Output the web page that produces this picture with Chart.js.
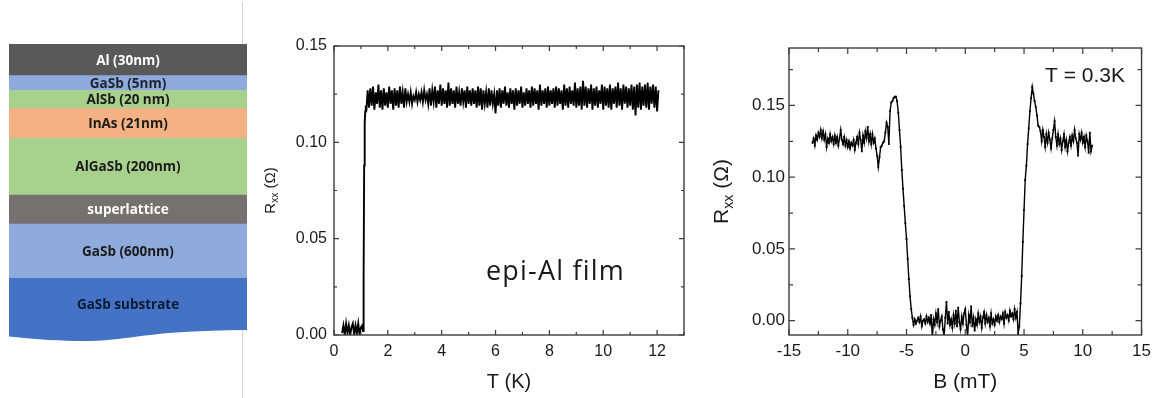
<!DOCTYPE html>
<html>
<head>
<meta charset="utf-8">
<script src="https://cdn.jsdelivr.net/npm/chart.js@4.4.1/dist/chart.umd.min.js"></script>
<style>
  html, body { margin: 0; padding: 0; background: #fff; }
  #wrap { position: relative; width: 1157px; height: 398px; overflow: hidden; }
  canvas { position: absolute; top: 0; }
  #divider { position: absolute; left: 242px; top: 2px; width: 1px; height: 396px; background: #d4d4d4; }
</style>
</head>
<body>
<div id="wrap">
  <div id="divider"></div>
  <canvas id="stack" width="260" height="398" style="left:0"></canvas>
  <canvas id="rt" width="440" height="398" style="left:260px"></canvas>
  <canvas id="rb" width="457" height="398" style="left:700px"></canvas>
</div>
<script>
// ---- layer stack (top to bottom), heights are drawn heights, not to scale
const layerNames = ['Al (30nm)', 'GaSb (5nm)', 'AlSb (20 nm)', 'InAs (21nm)', 'AlGaSb (200nm)', 'superlattice', 'GaSb (600nm)', 'GaSb substrate'];
const layerHeights = [31.7, 14.6, 18.4, 29.6, 56.7, 29, 54.3, 51.7];
const layerColors = ['#595959', '#8faadc', '#a9d18e', '#f4b183', '#a9d18e', '#767171', '#8faadc', '#4472c4'];
const layerTextColors = ['#ffffff', '#1c2230', '#1b1b1b', '#1b1b1b', '#1b1b1b', '#ffffff', '#1b1b1b', '#0e1a33'];

// ---- R_xx vs T
const tempK = [
  0.3,0.35,0.4,0.45,0.5,0.55,0.6,0.65,0.7,0.75,0.8,0.85,0.9,0.95,1,1.05,
  1.08,1.1,1.12,1.14,1.16,1.18,
  1.2,1.25,1.3,1.35,1.4,1.45,1.5,1.55,1.6,1.65,1.7,1.75,1.8,1.85,1.9,1.95,2,2.05,2.1,2.15,
  2.2,2.25,2.3,2.35,2.4,2.45,2.5,2.55,2.6,2.65,2.7,2.75,2.8,2.85,2.9,2.95,3,3.05,3.1,3.15,
  3.2,3.25,3.3,3.35,3.4,3.45,3.5,3.55,3.6,3.65,3.7,3.75,3.8,3.85,3.9,3.95,4,4.05,4.1,4.15,
  4.2,4.25,4.3,4.35,4.4,4.45,4.5,4.55,4.6,4.65,4.7,4.75,4.8,4.85,4.9,4.95,5,5.05,5.1,5.15,
  5.2,5.25,5.3,5.35,5.4,5.45,5.5,5.55,5.6,5.65,5.7,5.75,5.8,5.85,5.9,5.95,6,6.05,6.1,6.15,
  6.2,6.25,6.3,6.35,6.4,6.45,6.5,6.55,6.6,6.65,6.7,6.75,6.8,6.85,6.9,6.95,7,7.05,7.1,7.15,
  7.2,7.25,7.3,7.35,7.4,7.45,7.5,7.55,7.6,7.65,7.7,7.75,7.8,7.85,7.9,7.95,8,8.05,8.1,8.15,
  8.2,8.25,8.3,8.35,8.4,8.45,8.5,8.55,8.6,8.65,8.7,8.75,8.8,8.85,8.9,8.95,9,9.05,9.1,9.15,
  9.2,9.25,9.3,9.35,9.4,9.45,9.5,9.55,9.6,9.65,9.7,9.75,9.8,9.85,9.9,9.95,10,10.05,10.1,10.15,
  10.2,10.25,10.3,10.35,10.4,10.45,10.5,10.55,10.6,10.65,10.7,10.75,10.8,10.85,10.9,10.95,11,11.05,11.1,11.15,
  11.2,11.25,11.3,11.35,11.4,11.45,11.5,11.55,11.6,11.65,11.7,11.75,11.8,11.85,11.9,11.95,12,12.05
];
// resistance in milliohm
const rxxT_mOhm = [
  1,5,0,6,1,5,0,4,6,0,5,1,6,0,4,5,
  2,30,88,110,116,119,
  116,127,118,128,119,129,117,126,120,130,118,127,117,128,119,126,118,129,120,127,
  117,128,119,127,118,129,120,126,118,128,121,125,121,126,120,124,122,126,121,125,
  122,126,121,127,122,125,120,128,119,127,121,129,118,127,120,130,119,128,120,127,
  118,131,119,128,120,127,118,129,120,126,119,128,121,127,118,129,120,127,119,128,
  120,127,118,129,119,128,117,127,120,126,118,128,119,127,120,125,115,127,119,128,
  118,127,120,129,119,126,118,128,120,127,117,128,119,127,120,129,118,126,119,128,
  120,127,118,129,119,128,120,127,117,130,119,127,120,128,118,129,119,127,120,128,
  118,129,119,128,120,127,117,130,119,128,118,129,120,127,119,131,118,128,119,129,
  117,132,119,129,118,128,120,130,117,128,119,129,118,127,120,130,117,129,119,128,
  118,130,117,128,120,129,118,131,119,128,117,130,120,129,118,128,119,130,117,129,
  114,130,118,131,117,129,119,130,118,131,117,129,120,130,118,129,116,127
];
const tTicks = [0, 2, 4, 6, 8, 10, 12];
const tMinorTicks = [1, 3, 5, 7, 9, 11, 13];
const rTicksT = [0, 0.05, 0.10, 0.15];
const rMinorTicksT = [0.025, 0.075, 0.125];

// ---- R_xx vs B at 0.3 K
const fieldB = [
  -13,-12.9,-12.8,-12.7,-12.6,-12.5,-12.4,-12.3,-12.2,-12.1,
  -12,-11.9,-11.8,-11.7,-11.6,-11.5,-11.4,-11.3,-11.2,-11.1,
  -11,-10.9,-10.8,-10.7,-10.6,-10.5,-10.4,-10.3,-10.2,-10.1,
  -10,-9.9,-9.8,-9.7,-9.6,-9.5,-9.4,-9.3,-9.2,-9.1,
  -9,-8.9,-8.8,-8.7,-8.6,-8.5,-8.4,-8.3,-8.2,-8.1,
  -8,-7.9,-7.8,-7.7,-7.6,-7.5,-7.4,-7.3,-7.2,-7.1,
  -7,-6.9,-6.8,-6.7,-6.6,-6.5,-6.4,-6.3,-6.2,-6.1,
  -6,-5.9,-5.8,-5.7,-5.6,-5.5,-5.4,-5.3,-5.2,-5.1,
  -5,-4.9,-4.8,-4.7,-4.6,-4.5,-4.4,-4.3,-4.2,-4.1,
  -4,-3.9,-3.8,-3.7,-3.6,-3.5,-3.4,-3.3,-3.2,-3.1,
  -3,-2.9,-2.8,-2.7,-2.6,-2.5,-2.4,-2.3,-2.2,-2.1,
  -2,-1.9,-1.8,-1.7,-1.6,-1.5,-1.4,-1.3,-1.2,-1.1,
  -1,-0.9,-0.8,-0.7,-0.6,-0.5,-0.4,-0.3,-0.2,-0.1,
  0,0.1,0.2,0.3,0.4,0.5,0.6,0.7,0.8,0.9,
  1,1.1,1.2,1.3,1.4,1.5,1.6,1.7,1.8,1.9,
  2,2.1,2.2,2.3,2.4,2.5,2.6,2.7,2.8,2.9,
  3,3.1,3.2,3.3,3.4,3.5,3.6,3.7,3.8,3.9,
  4,4.1,4.2,4.3,4.4,4.5,4.6,4.7,4.8,4.9,
  5,5.1,5.2,5.3,5.4,5.5,5.6,5.7,5.8,5.9,
  6,6.1,6.2,6.3,6.4,6.5,6.6,6.7,6.8,6.9,
  7,7.1,7.2,7.3,7.4,7.5,7.6,7.7,7.8,7.9,
  8,8.1,8.2,8.3,8.4,8.5,8.6,8.7,8.8,8.9,
  9,9.1,9.2,9.3,9.4,9.5,9.6,9.7,9.8,9.9,
  10,10.1,10.2,10.3,10.4,10.5,10.6,10.7,10.8
];
const rxxB_mOhm = [
  124,127,122,129,126,131,128,133,127,132,
  126,130,121,127,124,130,125,128,123,129,
  124,128,122,127,133,126,123,128,122,126,
  121,125,120,124,122,126,119,124,128,123,
  131,126,118,129,124,132,127,135,125,130,
  123,130,124,127,120,115,107,114,121,122,
  124,125,131,138,135,123,146,152,153,155,
  156,156,153,145,133,121,105,92,80,68,
  57,43,29,17,8,2,-3,1,-2,0,
  2,-1,3,-4,0,1,-2,3,-1,2,
  -2,4,-12,1,-3,5,-1,8,-4,0,
  3,-6,-11,2,13,-2,6,-3,1,-5,
  4,-2,7,-4,9,-1,-6,3,-2,5,
  8,-3,-11,4,-1,10,-4,2,-7,1,
  -3,5,-1,3,-5,2,6,-2,4,-1,
  2,-4,5,-2,1,-3,3,0,4,-1,
  3,1,5,-2,6,2,4,0,7,3,
  5,1,8,2,6,-9,-4,12,31,55,
  77,98,108,123,134,146,155,163,158,153,
  149,143,136,135,132,125,133,128,121,130,
  124,131,126,120,127,133,139,128,122,130,
  123,127,119,125,130,121,126,118,124,128,
  122,129,125,133,127,124,115,130,126,131,
  124,128,121,129,125,117,131,118,122
];
const bTicks = [-15, -10, -5, 0, 5, 10, 15];
const bMinorTicks = [-12.5, -7.5, -2.5, 2.5, 7.5, 12.5];
const rTicksB = [0, 0.05, 0.10, 0.15];
const rMinorTicksB = [0.025, 0.075, 0.125, 0.175];

const SANS = '"Liberation Sans", Arial, sans-serif';

// 层结构标签 + 衬底波浪底边
const layerLabels = {
  id: 'layerLabels',
  afterDatasetsDraw(chart) {
    const ctx = chart.ctx;
    ctx.save();
    chart.data.datasets.forEach((ds, i) => {
      const el = chart.getDatasetMeta(i).data[0];
      const idx = layerNames.indexOf(ds.label);
      if (ds.label === 'GaSb substrate') {
        const w = el.width, l = el.x - w / 2, r = el.x + w / 2, b = el.base;
        ctx.fillStyle = ds.backgroundColor;
        ctx.beginPath();
        ctx.moveTo(l, b - 1);
        ctx.lineTo(l, b + 6.5);
        ctx.bezierCurveTo(l + 0.12 * w, b + 9.5, l + 0.22 * w, b + 11, l + 0.32 * w, b + 11);
        ctx.bezierCurveTo(l + 0.45 * w, b + 11, l + 0.55 * w, b + 5, l + 0.7 * w, b + 2.5);
        ctx.bezierCurveTo(l + 0.8 * w, b + 1, l + 0.9 * w, b + 0.3, r, b);
        ctx.lineTo(r, b - 1);
        ctx.closePath();
        ctx.fill();
      }
      ctx.fillStyle = layerTextColors[idx];
      ctx.font = 'bold 13.5px "Open Sans", sans-serif';
      ctx.textAlign = 'center';
      ctx.textBaseline = 'middle';
      ctx.fillText(ds.label, el.x, (el.y + el.base) / 2 + 1);
    });
    ctx.restore();
  }
};

// 边框 + 向内刻度 + 轴标题
function framePlugin(cfg) {
  return {
    id: 'frame',
    afterDraw(chart) {
      const { ctx, chartArea: a, scales: { x, y } } = chart;
      ctx.save();
      ctx.strokeStyle = '#3c3c3c';
      ctx.lineWidth = 1.4;
      ctx.strokeRect(a.left, a.top, a.right - a.left, a.bottom - a.top);
      ctx.lineWidth = 1.2;
      ctx.beginPath();
      const xt = (vals, len) => vals.forEach(v => {
        const p = x.getPixelForValue(v);
        ctx.moveTo(p, a.bottom); ctx.lineTo(p, a.bottom - len);
        ctx.moveTo(p, a.top); ctx.lineTo(p, a.top + len);
      });
      const yt = (vals, len) => vals.forEach(v => {
        const p = y.getPixelForValue(v);
        ctx.moveTo(a.left, p); ctx.lineTo(a.left + len, p);
        ctx.moveTo(a.right, p); ctx.lineTo(a.right - len, p);
      });
      xt(cfg.xMajor, cfg.major); xt(cfg.xMinor, cfg.minor);
      yt(cfg.yMajor, cfg.major); yt(cfg.yMinor, cfg.minor);
      ctx.stroke();

      // x title
      ctx.fillStyle = '#1a1a1a';
      ctx.font = cfg.titleSize + 'px ' + SANS;
      ctx.textAlign = 'center';
      ctx.textBaseline = 'alphabetic';
      ctx.fillText(cfg.xTitle, (a.left + a.right) / 2, cfg.xTitleY);

      // y title R_xx (Ω), rotated
      const s = cfg.yTitleSize;
      const mainF = s + 'px ' + SANS, subF = (s * 0.68) + 'px ' + SANS;
      ctx.save();
      ctx.translate(cfg.yTitleX, (a.top + a.bottom) / 2);
      ctx.rotate(-Math.PI / 2);
      ctx.textAlign = 'left';
      ctx.font = mainF; const w1 = ctx.measureText('R').width, w3 = ctx.measureText(' (\u03A9)').width;
      ctx.font = subF; const w2 = ctx.measureText('xx').width;
      let x0 = -(w1 + w2 + w3) / 2;
      ctx.font = mainF; ctx.fillText('R', x0, 0);
      ctx.font = subF; ctx.fillText('xx', x0 + w1, s * 0.22);
      ctx.font = mainF; ctx.fillText(' (\u03A9)', x0 + w1 + w2, 0);
      ctx.restore();

      // annotation
      ctx.font = cfg.noteFont;
      ctx.letterSpacing = cfg.noteSpacing || '0px';
      ctx.textAlign = 'left';
      ctx.fillText(cfg.note, cfg.noteX, cfg.noteY);
      ctx.restore();
    }
  };
}

function axisOptions(min, max, ticks, fmt, fitKey, fitVal, pad, size) {
  return {
    type: 'linear', min: min, max: max,
    afterBuildTicks: s => { s.ticks = ticks.map(v => ({ value: v })); },
    afterFit: s => { s[fitKey] = fitVal; },
    grid: { display: false, drawTicks: false },
    border: { display: false },
    ticks: { padding: pad, color: '#1a1a1a', maxRotation: 0, autoSkip: false, callback: fmt, font: { family: SANS, size: size } }
  };
}

document.addEventListener('DOMContentLoaded', function() {
  // 层结构图
  const totalHeight = layerHeights.reduce((s, v) => s + v, 0);
  new Chart(document.getElementById('stack'), {
    type: 'bar',
    data: {
      labels: ['stack'],
      datasets: layerNames.map((name, i) => ({
        label: name,
        data: [layerHeights[i]],
        backgroundColor: layerColors[i],
        borderWidth: 0,
        barPercentage: 1,
        categoryPercentage: 1
      })).reverse()
    },
    options: {
      responsive: false,
      animation: false,
      events: [],
      layout: { padding: { left: 9, right: 13, top: 44, bottom: 68 } },
      scales: {
        x: { stacked: true, display: false },
        y: { stacked: true, display: false, min: 0, max: totalHeight }
      },
      plugins: { legend: { display: false }, tooltip: { enabled: false } }
    },
    plugins: [layerLabels]
  });

  // R_xx - T
  new Chart(document.getElementById('rt'), {
    type: 'line',
    data: {
      datasets: [{
        data: tempK.map((t, i) => ({ x: t, y: rxxT_mOhm[i] / 1000 })),
        borderColor: '#000',
        borderWidth: 1.9,
        pointRadius: 0,
        tension: 0,
        fill: false
      }]
    },
    options: {
      responsive: false,
      animation: false,
      events: [],
      layout: { padding: { top: 46, right: 16, left: 0, bottom: 0 } },
      scales: {
        x: axisOptions(0, 13, tTicks, v => String(v), 'height', 63, 7, 16),
        y: axisOptions(0, 0.15, rTicksT, v => v.toFixed(2), 'width', 74, 7, 16)
      },
      plugins: { legend: { display: false }, tooltip: { enabled: false } }
    },
    plugins: [framePlugin({
      xMajor: tTicks, xMinor: tMinorTicks, yMajor: rTicksT, yMinor: rMinorTicksT,
      major: 5, minor: 3,
      xTitle: 'T (K)', titleSize: 20, xTitleY: 388,
      yTitleSize: 15, yTitleX: 15,
      note: 'epi-Al film', noteFont: '27px "Open Sans", sans-serif', noteSpacing: '1.2px', noteX: 226, noteY: 280
    })]
  });

  // R_xx - B
  new Chart(document.getElementById('rb'), {
    type: 'line',
    data: {
      datasets: [{
        data: fieldB.map((b, i) => ({ x: b, y: rxxB_mOhm[i] / 1000 })),
        borderColor: '#000',
        borderWidth: 1.4,
        pointRadius: 1.3,
        pointStyle: 'rect',
        pointBackgroundColor: '#000',
        pointBorderWidth: 0,
        tension: 0,
        fill: false
      }]
    },
    options: {
      responsive: false,
      animation: false,
      events: [],
      layout: { padding: { top: 48, right: 13, left: 0, bottom: 0 } },
      scales: {
        x: axisOptions(-15, 15, bTicks, v => String(v), 'height', 63, 6, 17),
        y: axisOptions(-0.01, 0.19, rTicksB, v => v.toFixed(2), 'width', 89, 4, 17)
      },
      plugins: { legend: { display: false }, tooltip: { enabled: false } }
    },
    plugins: [framePlugin({
      xMajor: bTicks, xMinor: bMinorTicks, yMajor: rTicksB, yMinor: rMinorTicksB,
      major: 6, minor: 4,
      xTitle: 'B (mT)', titleSize: 21, xTitleY: 388,
      yTitleSize: 21, yTitleX: 28,
      note: 'T = 0.3K', noteFont: '21px ' + SANS, noteX: 345, noteY: 82
    })]
  });
});
</script>
</body>
</html>
